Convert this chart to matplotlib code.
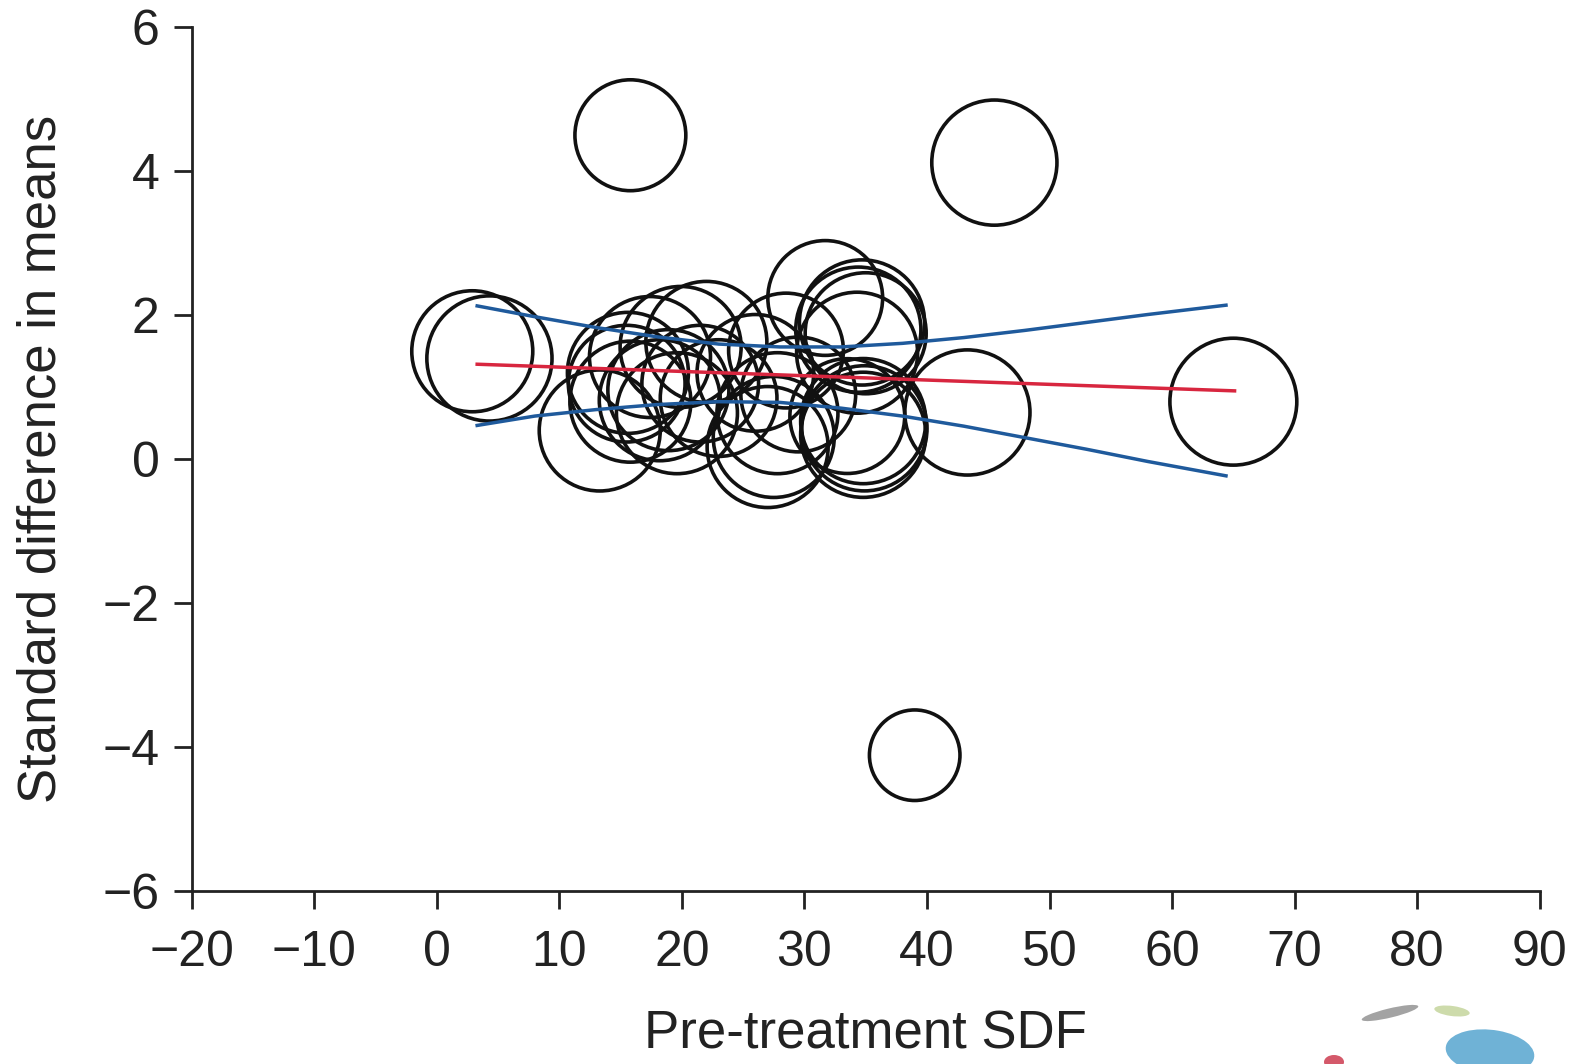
import numpy as np
import matplotlib
matplotlib.use("Agg")
import matplotlib.pyplot as plt
from matplotlib.patches import Ellipse

plt.rcParams['font.family'] = ['Liberation Sans', 'DejaVu Sans']

# study bubbles: pre-treatment SDF, standard difference in means, weight
sdf = [15.8, 45.5, 39.0, 65.0, 43.3, 2.9, 4.3,
       13.3, 15.6, 15.5, 17.4, 19.9, 22.0, 15.8, 18.2, 19.6, 18.9,
       21.5, 23.0, 27.8, 27.0, 27.5, 28.5, 26.0, 29.5, 31.7,
       34.4, 34.7, 35.0, 34.3, 34.8, 34.9, 34.8, 33.5]
smd = [4.50, 4.12, -4.11, 0.80, 0.65, 1.50, 1.40,
       0.40, 1.20, 1.05, 1.42, 1.56, 1.63, 0.80, 0.82, 0.64, 0.96,
       1.05, 0.85, 0.64, 0.17, 0.31, 1.51, 1.20, 0.90, 2.24,
       1.80, 1.90, 1.75, 1.48, 0.53, 0.43, 0.34, 0.60]
weight = [84, 107, 56, 110, 107, 100, 107,
          100, 100, 93, 100, 100, 100, 100, 100, 100, 100,
          93, 93, 100, 100, 100, 90, 93, 90, 90,
          107, 107, 100, 100, 107, 107, 107, 90]

# regression line and its confidence band
reg_x = [3.3, 65.1]
reg_y = [1.32, 0.95]
band_x = [3.3, 8, 13, 18, 23, 28, 33, 38, 43, 48, 53, 58, 64.4]
band_upper = [2.13, 1.98, 1.83, 1.70, 1.60, 1.56, 1.56, 1.61, 1.69, 1.79, 1.90, 2.01, 2.14]
band_lower = [0.47, 0.60, 0.69, 0.76, 0.80, 0.79, 0.71, 0.60, 0.46, 0.30, 0.14, -0.03, -0.23]

fig = plt.figure(figsize=(15.81, 10.64), dpi=100)
ax = fig.add_axes([0.1212, 0.1623, 0.8527, 0.8121])

# bubble radius ~60 px for weight 100
sizes = [(2 * 60.5 * np.sqrt(w / 100.0) * 0.72) ** 2 for w in weight]
ax.scatter(sdf, smd, s=sizes, facecolors='none', edgecolors='#111111',
           linewidths=2.6, zorder=2)

ax.plot(reg_x, reg_y, color='#d8263f', lw=2.5, zorder=3)
ax.plot(band_x, band_upper, color='#1f5a9c', lw=2.5, zorder=3)
ax.plot(band_x, band_lower, color='#1f5a9c', lw=2.5, zorder=3)

ax.set_xlim(-20, 90)
ax.set_ylim(-6, 6)
ax.set_xticks(np.arange(-20, 91, 10))
ax.set_yticks(np.arange(-6, 7, 2))
for s in ['top', 'right']:
    ax.spines[s].set_visible(False)
for s in ['left', 'bottom']:
    ax.spines[s].set_linewidth(2.0)
    ax.spines[s].set_color('#222222')
ax.tick_params(direction='out', length=13, width=2.0, color='#222222',
               labelsize=36, labelcolor='#222222')
ax.tick_params(axis='x', pad=15)
ax.tick_params(axis='y', pad=10)

ax.set_xlabel('Pre-treatment SDF', fontsize=38, color='#222222', labelpad=24)
ax.set_ylabel('Standard difference in means', fontsize=38, color='#222222',
              labelpad=26)

# faint corner logo (partially cut off)
W, H = 1581.0, 1064.0
def fpatch(cx, cy, w, h, ang, col):
    e = Ellipse((cx / W, 1 - cy / H), w / W, h / H, angle=ang,
                transform=fig.transFigure, color=col, lw=0, clip_on=False)
    fig.patches.append(e)
fpatch(1390, 1013, 60, 9, 20, '#a3a3a3')
fpatch(1452, 1011, 36, 10, -12, '#cddbab')
fpatch(1490, 1052, 90, 44, -15, '#6fb2d6')
fpatch(1334, 1062, 20, 14, 0, '#d4596a')

fig.savefig('out.png', dpi=100)
